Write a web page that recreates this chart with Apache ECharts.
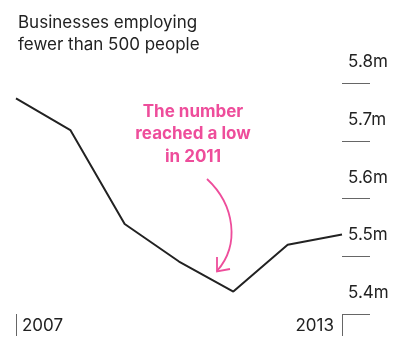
<!DOCTYPE html>
<html>
<head>
<meta charset="utf-8">
<script src="https://cdn.jsdelivr.net/npm/echarts@6/dist/echarts.min.js"></script>
<style>html,body{margin:0;padding:0;background:#fff;}#c{width:397px;height:337px;}</style>
</head>
<body>
<div id="c"></div>
<script>
const years = ['2007','2008','2009','2010','2011','2012','2013'];
const businesses = [5.774, 5.719, 5.556, 5.491, 5.439, 5.520, 5.538];
const yTicks = [5.4, 5.5, 5.6, 5.7, 5.8];
const titleText = 'Businesses employing\nfewer than 500 people';
const noteText = 'The number\nreached a low\nin 2011';

const FONT = 'Inter';
const chart = echarts.init(document.getElementById('c'), null, {renderer: 'canvas'});
const shown = (i) => i === 0 || i === years.length - 1;
chart.setOption({
  animation: false,
  backgroundColor: '#fff',
  textStyle: {fontFamily: FONT},
  title: {
    text: titleText, left: 13, top: 7,
    textStyle: {fontFamily: FONT, fontSize: 17, fontWeight: 'normal', color: '#222', lineHeight: 22}
  },
  grid: {left: 16, right: 55, top: 83.3, bottom: 23, containLabel: false},
  xAxis: {
    type: 'category', data: years, boundaryGap: false,
    axisLine: {show: false},
    axisTick: {show: true, interval: (i) => shown(i), length: 22, lineStyle: {color: '#666', width: 1}},
    axisLabel: {
      interval: (i) => shown(i), margin: 3,
      alignMinLabel: 'left', alignMaxLabel: 'right',
      formatter: (v, i) => i === 0 ? '{l|' + v + '}' : '{r|' + v + '}',
      rich: {
        l: {fontFamily: FONT, fontSize: 17, color: '#222', padding: [0, 0, 0, 6]},
        r: {fontFamily: FONT, fontSize: 17, color: '#222', padding: [0, 8, 0, 0]}
      }
    },
    splitLine: {show: false}
  },
  yAxis: {
    type: 'value', position: 'right',
    min: yTicks[0], max: yTicks[yTicks.length - 1], interval: 0.1,
    axisLine: {show: false},
    axisTick: {show: true, length: 28, lineStyle: {color: '#666', width: 1}},
    splitLine: {show: false},
    axisLabel: {
      margin: 6, fontFamily: FONT, fontSize: 17, color: '#222',
      verticalAlign: 'bottom', lineHeight: 42,
      formatter: (v) => v.toFixed(1) + 'm'
    }
  },
  series: [{
    type: 'line', data: businesses, symbol: 'none',
    lineStyle: {color: '#222', width: 2}
  }],
  graphic: [
    {
      type: 'text', style: {
        text: noteText, x: 193, y: 100.5, textAlign: 'center',
        fontFamily: FONT, fontSize: 17, fontWeight: 'bold', fill: '#ee4d9b', lineHeight: 22.5
      }
    },
    {
      type: 'bezierCurve', shape: {x1: 207, y1: 179, cpx1: 235, cpy1: 205, cpx2: 240, cpy2: 245, x2: 217, y2: 271},
      style: {stroke: '#ee4d9b', lineWidth: 1.8, fill: null}
    },
    {
      type: 'polyline', shape: {points: [[217, 257], [217, 271.5], [230, 269]]},
      style: {stroke: '#ee4d9b', lineWidth: 1.8, fill: null}
    }
  ]
});
</script>
</body>
</html>
